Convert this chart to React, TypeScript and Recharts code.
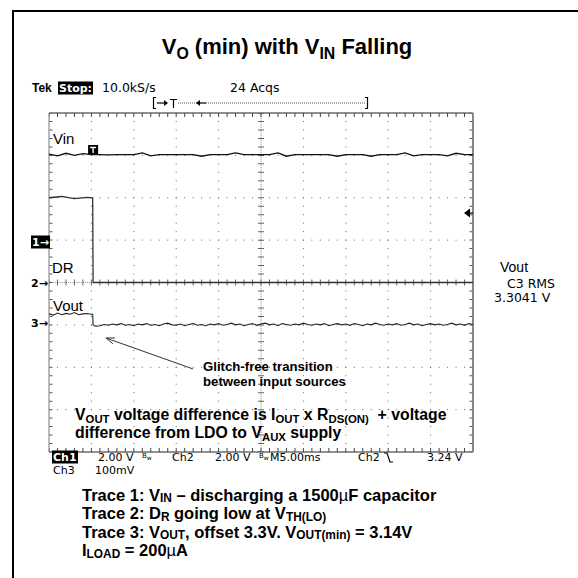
import React from 'react'
import { LineChart, Line, XAxis, YAxis, ReferenceLine } from 'recharts'

// scope screen: 10 x 8 divisions, 5 ms/div, vertical values in divisions
const PLOT = { left: 49, top: 113, width: 424, height: 339 }
const PX_PER_DIV = PLOT.height / 8
const X_DOMAIN = [0, 50]
const Y_DOMAIN = [-4, 4]

const gridTimes = [5, 10, 15, 20, 30, 35, 40, 45]
const gridLevels = [-3, -2, -1, 1, 2, 3]

// Ch1 - Vin, one sample per ms
const vinStep = 1
const vinValues = [
  3.03, 2.99, 3.05, 3.0, 3.04, 3.02, 3.02, 3.01, 3.02, 3.02,
  3.02, 3.06, 2.99, 3.02, 3.02, 3.02, 3.02, 3.02, 2.98, 3.02,
  3.02, 3.02, 3.06, 3.02, 3.02, 3.02, 3.02, 3.06, 2.98, 3.02,
  3.02, 3.02, 3.02, 3.02, 2.98, 3.02, 3.02, 3.02, 2.98, 3.02,
  3.02, 3.02, 3.06, 2.99, 3.02, 3.02, 3.02, 2.99, 3.05, 3.02,
  3.02,
]

// Ch2 - DR
const drTimes = [0, 1.5, 3, 4.5, 5.15, 5.2, 50]
const drValues = [2.0, 2.03, 1.98, 2.01, 2.0, 0, 0]

// Ch3 - Vout (100mV/div, offset 3.3V), 0.5 ms samples
const voutStep = 0.5
const voutPre = [-0.74, -0.77, -0.72, -0.76, -0.73, -0.75, -0.71, -0.76, -0.74, -0.73, -0.75]
const voutSwitchTimes = [5.15, 5.2]
const voutSwitchValues = [-0.75, -1.0]
const voutPostStart = 5.5
const voutPost = [
  -1.03, -1.02, -0.99, -1.01, -0.98, -1.0, -0.97, -1.01, -0.99, -1.02,
  -0.98, -1.0, -0.97, -1.01, -0.99, -1.02, -0.98, -0.96, -1.0, -1.01,
  -0.98, -1.02, -0.99, -0.97, -1.01, -0.99, -1.02, -0.98, -1.0, -0.97,
  -1.01, -0.99, -0.96, -1.0, -0.98, -1.02, -0.99, -0.97, -1.01, -0.98,
  -0.96, -1.0, -0.98, -1.02, -0.97, -0.99, -1.01, -0.98, -1.0, -0.96,
  -0.99, -1.01, -0.98, -1.0, -0.97, -1.02, -0.99, -0.97, -1.0, -0.98,
  -1.01, -0.97, -0.99, -1.02, -0.98, -1.0, -0.96, -0.99, -1.01, -0.98,
  -1.0, -0.97, -1.01, -0.99, -0.96, -1.0, -0.98, -1.02, -0.99, -0.97,
  -1.0, -0.98, -1.01, -0.99, -0.96, -1.0, -0.98, -1.01, -0.97, -0.99,
]

// channel ground markers and trigger
const channelMarks = [
  { label: '1', level: 0.95, inverted: true },
  { label: '2', level: 0, inverted: false },
  { label: '3', level: -0.96, inverted: false },
]
const triggerTime = 5.2
const triggerLevel = 1.64

// annotation arrow (tail -> head), in ms / div
const arrowTail = { x: 16.98, y: -2.04 }
const arrowHead = { x: 6.72, y: -1.31 }

const vinData = vinValues.map((v, i) => ({ t: i * vinStep, v }))
const drData = drTimes.map((t, i) => ({ t, v: drValues[i] }))
const voutData = [
  ...voutPre.map((v, i) => ({ t: i * voutStep, v })),
  ...voutSwitchTimes.map((t, i) => ({ t, v: voutSwitchValues[i] })),
  ...voutPost.map((v, i) => ({ t: voutPostStart + i * voutStep, v })),
]

const px = (t: number) => PLOT.left + (t / 50) * PLOT.width
const py = (v: number) => PLOT.top + PLOT.height / 2 - v * PX_PER_DIV

const ARIAL = '"Liberation Sans", Arial, sans-serif'
const SCOPE = '"DejaVu Sans", sans-serif'

function Txt({ x, y, children, style }: { x: number; y: number; children: React.ReactNode; style?: React.CSSProperties }) {
  return (
    <div
      style={{
        position: 'absolute',
        left: x,
        top: y,
        transform: 'translateY(-50%)',
        whiteSpace: 'nowrap',
        lineHeight: 1,
        ...style,
      }}
    >
      {children}
    </div>
  )
}

function Sub({ children, drop = 0.3 }: { children: React.ReactNode; drop?: number }) {
  return <span style={{ fontSize: '0.72em', position: 'relative', top: `${drop}em` }}>{children}</span>
}

function Inv({ children }: { children: React.ReactNode }) {
  return <span style={{ background: '#000', color: '#fff', padding: '0 1px' }}>{children}</span>
}

function ArrowShape(props: any) {
  const { x1, y1, x2, y2 } = props
  const ang = Math.atan2(y2 - y1, x2 - x1)
  const len = 9
  const a1 = ang + Math.PI - 0.35
  const a2 = ang + Math.PI + 0.35
  return (
    <g stroke="#333" strokeWidth={1} fill="none">
      <line x1={x1} y1={y1} x2={x2} y2={y2} />
      <path
        d={`M${x2 + len * Math.cos(a1)},${y2 + len * Math.sin(a1)} L${x2},${y2} L${x2 + len * Math.cos(a2)},${y2 + len * Math.sin(a2)}`}
      />
    </g>
  )
}

const dotsV = '1 7.475'
const dotsH = '1 7.48'
const edge = 2 / PX_PER_DIV
const edgeX = (2 / PLOT.width) * 50
const footer = { fontFamily: SCOPE, fontSize: 11 }

export default function App() {
  const tx = px(triggerTime)
  return (
    <div style={{ position: 'absolute', left: 0, top: 0, width: 578, height: 578, background: '#fff', overflow: 'hidden' }}>
      {/* outer frame */}
      <div style={{ position: 'absolute', left: 12, top: 10, width: 570, height: 570, borderLeft: '2px solid #000', borderTop: '2px solid #000' }} />

      <div style={{ position: 'absolute', left: 0, top: 0 }}>
        <LineChart
          width={578}
          height={578}
          margin={{ top: PLOT.top, left: PLOT.left, right: 578 - PLOT.left - PLOT.width, bottom: 578 - PLOT.top - PLOT.height }}
        >
          <XAxis dataKey="t" type="number" domain={X_DOMAIN} allowDataOverflow hide />
          <YAxis type="number" domain={Y_DOMAIN} allowDataOverflow hide />

          {gridTimes.map((t) => (
            <ReferenceLine key={'gx' + t} x={t} stroke="#666" strokeDasharray={dotsV} strokeDashoffset={0.5} ifOverflow="visible" />
          ))}
          {gridLevels.map((v) => (
            <ReferenceLine key={'gy' + v} y={v} stroke="#666" strokeDasharray={dotsH} strokeDashoffset={0.5} ifOverflow="visible" />
          ))}

          {/* centre cross with minor ticks */}
          <ReferenceLine x={25} stroke="#888" strokeDasharray="1 1.119" ifOverflow="visible" />
          <ReferenceLine x={25} stroke="#666" strokeWidth={6} strokeDasharray={dotsV} strokeDashoffset={0.5} ifOverflow="visible" />
          <ReferenceLine y={0} stroke="#888" strokeDasharray="1 1.12" ifOverflow="visible" />
          <ReferenceLine y={0} stroke="#666" strokeWidth={6} strokeDasharray={dotsH} strokeDashoffset={0.5} ifOverflow="visible" />

          {/* graticule border */}
          <ReferenceLine y={4} stroke="#222" ifOverflow="visible" />
          <ReferenceLine y={4 - edge} stroke="#444" strokeWidth={4} strokeDasharray={dotsH} strokeDashoffset={0.5} ifOverflow="visible" />
          <ReferenceLine y={-4} stroke="#222" ifOverflow="visible" />
          <ReferenceLine y={-4 + edge} stroke="#444" strokeWidth={4} strokeDasharray={dotsH} strokeDashoffset={0.5} ifOverflow="visible" />
          <ReferenceLine x={0} stroke="#777" ifOverflow="visible" />
          <ReferenceLine x={edgeX} stroke="#555" strokeWidth={3} strokeDasharray={dotsV} strokeDashoffset={0.5} ifOverflow="visible" />
          <ReferenceLine x={50} stroke="#888" strokeWidth={2} ifOverflow="visible" />
          <ReferenceLine x={50 - edgeX} stroke="#555" strokeWidth={3} strokeDasharray={dotsV} strokeDashoffset={0.5} ifOverflow="visible" />

          <ReferenceLine segment={[arrowTail, arrowHead]} shape={ArrowShape} ifOverflow="visible" />

          <Line data={drData} dataKey="v" type="linear" stroke="#333" strokeWidth={1.3} dot={false} isAnimationActive={false} />
          <Line data={vinData} dataKey="v" type="linear" stroke="#111" strokeWidth={1.3} dot={false} isAnimationActive={false} />
          <Line data={voutData} dataKey="v" type="linear" stroke="#222" strokeWidth={1.1} dot={false} isAnimationActive={false} />
        </LineChart>
      </div>

      {/* small scope glyphs */}
      <svg width={578} height={578} style={{ position: 'absolute', left: 0, top: 0, pointerEvents: 'none' }}>
        <g stroke="#000" strokeWidth={1.2} fill="none">
          <path d="M156 97.5 H153.5 V108.5 H156" />
          <path d="M365 97.5 H367.5 V108.5 H365" />
          <line x1={157} y1={103} x2={165} y2={103} />
          <path d="M170 99.5 H177 M173.5 99.5 V108" />
          <line x1={199} y1={103} x2={206} y2={103} />
          <path d="M384 453 H387 L390 462 H393" />
          <line x1={px(50) - 4} y1={py(triggerLevel)} x2={px(50)} y2={py(triggerLevel)} />
        </g>
        <line x1={178} y1={103} x2={366} y2={103} stroke="#555" strokeWidth={1} strokeDasharray="1 1" />
        <polygon points="168,103 164,100 164,106" fill="#000" />
        <polygon points="196,103 200,100 200,106" fill="#000" />
        <polygon
          points={`${px(50) - 9},${py(triggerLevel)} ${px(50) - 3},${py(triggerLevel) - 4.5} ${px(50) - 3},${py(triggerLevel) + 4.5}`}
          fill="#000"
        />
        {/* trigger position marker on Vin */}
        <rect x={tx - 5} y={145} width={10} height={9} fill="#000" />
        <path d={`M${tx - 3} 147.5 H${tx + 3} M${tx} 147.5 V153`} stroke="#fff" strokeWidth={1.4} fill="none" />
      </svg>

      {/* channel markers */}
      {channelMarks.map((m) => (
        <Txt key={m.label} x={31} y={py(m.level)} style={{ fontFamily: SCOPE, fontSize: 11, fontWeight: 700 }}>
          {m.inverted ? <Inv>1→</Inv> : <span>{m.label}→</span>}
        </Txt>
      ))}

      {/* title */}
      <div
        style={{
          position: 'absolute',
          left: 0,
          width: 574,
          top: 47,
          transform: 'translateY(-50%)',
          textAlign: 'center',
          fontFamily: ARIAL,
          fontWeight: 700,
          fontSize: 22,
          lineHeight: 1,
          whiteSpace: 'nowrap',
        }}
      >
        V<Sub>O</Sub> (min) with V<Sub>IN</Sub> Falling
      </div>

      {/* scope header */}
      <Txt x={32} y={88} style={{ fontFamily: ARIAL, fontWeight: 700, fontSize: 12 }}>Tek</Txt>
      <Txt x={58} y={88} style={{ fontFamily: SCOPE, fontWeight: 700, fontSize: 11 }}><Inv>Stop:</Inv></Txt>
      <Txt x={102} y={88} style={{ fontFamily: SCOPE, fontSize: 12.5 }}>10.0kS/s</Txt>
      <Txt x={230} y={88} style={{ fontFamily: SCOPE, fontSize: 12.5 }}>24 Acqs</Txt>

      {/* trace labels */}
      <Txt x={53} y={138} style={{ fontFamily: ARIAL, fontSize: 15 }}>Vin</Txt>
      <Txt x={52} y={267} style={{ fontFamily: ARIAL, fontSize: 15 }}>DR</Txt>
      <Txt x={53} y={305} style={{ fontFamily: ARIAL, fontSize: 15 }}>Vout</Txt>

      {/* annotations */}
      <Txt x={203} y={367} style={{ fontFamily: ARIAL, fontWeight: 700, fontSize: 13.2 }}>Glitch-free transition</Txt>
      <Txt x={203} y={382} style={{ fontFamily: ARIAL, fontWeight: 700, fontSize: 13.2 }}>between input sources</Txt>
      <Txt x={75} y={415} style={{ fontFamily: ARIAL, fontWeight: 700, fontSize: 15.8 }}>
        V<Sub>OUT</Sub> voltage difference is I<Sub>OUT</Sub> x R<Sub>DS(ON)</Sub>&nbsp; + voltage
      </Txt>
      <Txt x={75} y={433} style={{ fontFamily: ARIAL, fontWeight: 700, fontSize: 15.8 }}>
        difference from LDO to V<Sub>AUX</Sub> supply
      </Txt>

      {/* scope footer */}
      <Txt x={52} y={457} style={{ ...footer, fontWeight: 700 }}><Inv>Ch1</Inv></Txt>
      <Txt x={98} y={457} style={footer}>2.00 V</Txt>
      <Txt x={142} y={457} style={{ fontFamily: SCOPE, fontSize: 7 }}>B<sub style={{ fontSize: 6 }}>w</sub></Txt>
      <Txt x={172} y={457} style={footer}>Ch2</Txt>
      <Txt x={215} y={457} style={footer}>2.00 V</Txt>
      <Txt x={259} y={457} style={{ fontFamily: SCOPE, fontSize: 7 }}>B<sub style={{ fontSize: 6 }}>w</sub></Txt>
      <Txt x={270} y={457} style={footer}>M5.00ms</Txt>
      <Txt x={358} y={457} style={footer}>Ch2</Txt>
      <Txt x={427} y={457} style={footer}>3.24 V</Txt>
      <Txt x={53} y={470} style={footer}>Ch3</Txt>
      <Txt x={95} y={470} style={footer}>100mV</Txt>

      {/* measurement readout */}
      <Txt x={500} y={267} style={{ fontFamily: ARIAL, fontSize: 14 }}>Vout</Txt>
      <Txt x={507} y={284} style={{ fontFamily: SCOPE, fontSize: 12.5 }}>C3 RMS</Txt>
      <Txt x={494} y={298} style={{ fontFamily: SCOPE, fontSize: 12.5 }}>3.3041 V</Txt>

      {/* captions */}
      {[
        <>Trace 1: V<Sub drop={0.15}>IN</Sub> – discharging a 1500<span style={{ fontWeight: 400 }}>µ</span>F capacitor</>,
        <>Trace 2: D<Sub drop={0.15}>R</Sub> going low at V<Sub drop={0.15}>TH(LO)</Sub></>,
        <>Trace 3: V<Sub drop={0.15}>OUT</Sub>, offset 3.3V. V<Sub drop={0.15}>OUT(min)</Sub> = 3.14V</>,
        <>I<Sub drop={0.15}>LOAD</Sub> = 200<span style={{ fontWeight: 400 }}>µ</span>A</>,
      ].map((c, i) => (
        <Txt key={i} x={82} y={494.5 + i * 18.5} style={{ fontFamily: ARIAL, fontWeight: 700, fontSize: 16.5 }}>
          {c}
        </Txt>
      ))}
    </div>
  )
}
